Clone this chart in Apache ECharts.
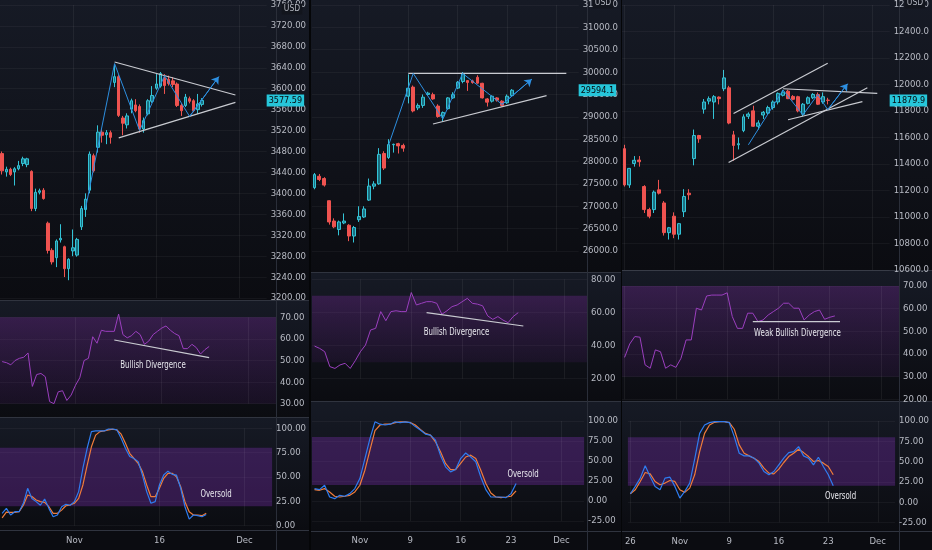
<!DOCTYPE html>
<html><head><meta charset="utf-8">
<script src="https://cdn.jsdelivr.net/npm/echarts/dist/echarts.min.js"></script>
<style>
html,body{margin:0;padding:0;background:#050608;width:932px;height:550px;overflow:hidden;}
.col{position:absolute;top:0;height:550px;overflow:hidden;}
</style></head><body>
<div id="c1" class="col" style="left:0;width:309px"></div>
<div id="c2" class="col" style="left:311px;width:310px"></div>
<div id="c3" class="col" style="left:622px;width:310px"></div>
<script>
// ---------- shared time slots (4h bars, two per trading day) ----------
const tradingDays = ['2020-10-20','2020-10-21','2020-10-22','2020-10-23','2020-10-26','2020-10-27','2020-10-28','2020-10-29','2020-10-30',
 '2020-11-02','2020-11-03','2020-11-04','2020-11-05','2020-11-06','2020-11-09','2020-11-10','2020-11-11','2020-11-12','2020-11-13',
 '2020-11-16','2020-11-17','2020-11-18','2020-11-19','2020-11-20','2020-11-23','2020-11-24','2020-11-25','2020-11-27','2020-11-30',
 '2020-12-01','2020-12-02','2020-12-03','2020-12-04','2020-12-07','2020-12-08','2020-12-09','2020-12-10'];
const sessions = ['09:30','13:30'];

// ---------- column 1 (USD, ~3577) ----------
const spxTicks = [['2020-11-02','Nov'],['2020-11-16','16'],['2020-12-01','Dec']];
// [open, close, low, high]
const spxCandles = [
 [3476,3443,3436,3480],[3441,3446,3432,3451],[3446,3436,3433,3449],[3441,3447,3415,3450],[3447,3453,3444,3462],
 [3457,3466,3452,3470],[3455,3466,3450,3468],[3442,3371,3366,3444],[3371,3402,3366,3409],[3402,3405,3398,3409],
 [3406,3390,3388,3410],[3343,3291,3285,3346],[3291,3269,3264,3295],[3277,3309,3259,3312],[3311,3314,3306,3341],
 [3298,3256,3240,3300],[3256,3274,3234,3276],[3290,3296,3280,3331],[3282,3312,3279,3315],[3336,3371,3330,3376],
 [3369,3389,3355,3400],[3406,3475,3400,3480],[3472,3443,3440,3476],[3488,3517,3478,3530],[3517,3511,3497,3522],
 [3512,3516,3494,3521],[3516,3507,3495,3520],[3612,3623,3603,3645],[3623,3549,3546,3627],[3544,3534,3511,3548],
 [3531,3548,3524,3553],[3561,3577,3553,3581],[3569,3558,3555,3580],[3566,3523,3516,3570],[3523,3539,3516,3545],
 [3552,3577,3549,3580],[3576,3587,3573,3605],[3601,3609,3598,3628],[3605,3629,3602,3632],[3620,3606,3590,3628],
 [3618,3610,3606,3625],[3615,3608,3603,3622],[3609,3568,3565,3612],[3568,3558,3548,3572],[3568,3584,3565,3590],
 [3581,3576,3572,3585],[3577,3558,3555,3580],[3560,3571,3552,3590],[3570,3577.59,3566,3582]];
const spxRsi = [49.5,49,48,50,51,51.5,53.5,38,43.5,44,42.5,31,30,35.5,36,31.5,34,38.5,42,50,51,61,58,64,63.5,63.5,63.5,71.5,62,60.5,
 61.5,63.5,62,57.5,59,62,63.5,65,66,64,62.5,61.5,55.5,55.5,57.5,56,53,55,56.5];
const spxK = [12.7,17.8,11,14.4,14.4,23,38.4,28,24.7,21,27.4,17.8,9.2,11,19.5,22,21,24.7,35,59,79.5,96.6,97.3,97.3,97.3,99.3,99.3,98.3,
 89.7,79.5,71,69,65.8,52,35,23,24.7,41.8,52,56,52.7,52,38.4,19.5,6.8,11,10.3,9.2,11.6];
const spxD = [8,14,13.7,13.7,14.4,21,31.5,30,26.4,24.7,24,19.5,12.7,12.7,16,20.5,21.2,23,28,41.8,62,81,93,96.6,97.3,98.3,99,98.3,
 94,84.6,74.3,69,64,55.5,41.8,29.8,29.8,38.4,48.6,53.8,53.8,50.3,40,24.7,14.4,11,11,10.3,12.7];
const spxWave = [[20,3370],[27,3648],[33,3520],[39,3625],[45,3547],[52,3623]];
const spxTriUpper = [[27,3651],[56,3588]];
const spxTriLower = [[28,3506],[56,3574]];
const spxRsiLine = [[26,59.5],[48,51.3]];

// ---------- column 2 (~29594) ----------
const djiTicks = [['2020-11-02','Nov'],['2020-11-09','9'],['2020-11-16','16'],['2020-11-23','23'],['2020-12-01','Dec']];
const djiCandles = [
 [27416,27708,27380,27744],[27671,27598,27562,27722],[27620,27474,27440,27650],[27124,26649,26590,27130],[26671,26540,26510,26730],
 [26481,26650,26350,26680],[26627,26670,26600,26840],[26576,26335,26220,26600],[26335,26525,26190,26560],[26700,26770,26650,27000],
 [26760,26940,26740,27000],[27138,27452,27120,27620],[27450,27500,27380,27560],[27503,28160,27480,28300],[28180,27854,27810,28230],
 [28090,28380,28060,28500],[28375,28385,28200,28400],[28400,28350,28180,28420],[28360,28300,28220,28400],[29460,29640,29300,29950],
 [29664,29131,29100,29700],[29200,29255,29150,29300],[29255,29438,29200,29500],[29500,29530,29480,29560],[29496,29400,29380,29540],
 [29240,29007,28980,29280],[29020,29095,28900,29120],[29182,29423,29160,29440],[29423,29496,29400,29550],[29642,29774,29620,29800],
 [29790,29970,29750,30000],[29810,29766,29580,29820],[29803,29766,29740,29830],[29883,29752,29740,29930],[29750,29423,29410,29760],
 [29400,29328,29230,29420],[29350,29460,29320,29480],[29423,29372,29340,29440],[29350,29255,29230,29370],[29314,29460,29290,29500],
 [29474,29594.1,29460,29620]];
const djiRsi = [39.7,38.3,36.3,27.3,26.2,28.3,29.3,26.2,30.9,36.3,40.3,49.4,50.4,60.5,55,60.5,61,60.5,60.5,72,64.5,65.5,66.5,66.5,65.5,
 58.9,61,63.5,64.5,66.5,68.5,65.5,65,64,57.9,55.8,57.5,55.4,53.8,57.5,59.9];
const djiK = [15.5,14.2,19.7,5,2.9,7.1,5.9,9.2,15.5,28,53,78,99,96,95,96,99,98,99,98,93,88.7,83.7,82.4,76,57,42.7,36.4,39.3,53,60,55,49,
 30,14.2,5,5,5,4.2,9.2,21.8];
const djiD = [14.2,13.4,15.5,11.3,5.9,5,5.9,7.1,11.3,19.7,38.5,63.6,87.9,95,96,96,98,99,99,98,95,89.5,84.5,82.4,74,61.5,46.9,39.3,39.3,
 46.9,55,57.3,53,38.5,21.8,10,5,4.2,5,5.9,12.6];
const djiWave = [[15,28365],[20,29970],[26,28950],[30,29970],[38,29277],[44,29840]];
const djiResistance = [[19,29970],[51,29970]];
const djiSupport = [[24,28840],[47,29474]];
const djiRsiLine = [[22,59.9],[41,51.8]];

// ---------- column 3 (~11879.9) ----------
const ndxTicks = [['2020-10-26','26'],['2020-11-02','Nov'],['2020-11-09','9'],['2020-11-16','16'],['2020-11-23','23'],['2020-12-01','Dec']];
const ndxCandles = [
 [11516,11242,11230,11545],[11242,11367,11220,11370],[11404,11428,11380,11460],[11430,11417,11380,11460],[11230,11056,11030,11240],
 [11056,11006,10990,11070],[11056,11188,11030,11200],[11205,11180,11170,11280],[11106,10882,10860,11120],[10882,10919,10830,10925],
 [11006,10870,10840,11035],[10870,10950,10830,10955],[11040,11155,11000,11210],[11180,11168,11130,11210],[11441,11615,11390,11660],
 [11615,11590,11560,11620],[11814,11868,11780,11890],[11875,11893,11850,11910],[11868,11908,11740,11920],[11905,11893,11850,11910],
 [11968,12050,11950,12110],[11975,11709,11700,11990],[11620,11540,11425,11650],[11545,11553,11510,11600],[11652,11756,11640,11775],
 [11760,11777,11740,11790],[11801,11685,11680,11840],[11685,11710,11660,11730],[11770,11790,11740,11800],[11784,11826,11770,11840],
 [11826,11868,11810,11880],[11868,11933,11850,11940],[11918,11943,11910,11960],[11950,11893,11890,11960],[11910,11888,11880,11920],
 [11908,11801,11790,11915],[11776,11851,11760,11860],[11858,11900,11850,11910],[11900,11925,11890,11935],[11925,11851,11845,11940],
 [11868,11908,11855,11940],[11882,11879.9,11850,11900]];
const ndxRsi = [38.5,44.4,47.7,47.4,35.2,33.7,41.8,41,33.7,35.2,34.1,38.1,46.2,46.2,60.2,59.4,65.6,66,66,66,67,56.5,51.3,51.3,58,58,
 54.3,55,57.2,58.7,60.2,62.4,62.4,60.2,60.2,55,57.2,58.7,59.4,55.3,56.2,56.8];
const ndxK = [10.2,19.3,29.5,44.7,31.6,19.3,15.2,29.5,30.7,19.3,4.9,13.1,23.4,52.9,84.8,95,98,99.2,99.2,99.2,98,80.7,60.2,57,57,54.1,48,
 37.7,33.6,37.7,45.9,54.1,61,62.3,68.4,57,54.1,45.9,55.3,43.9,33.6,20.1];
const ndxD = [10.2,15.2,25.4,36.5,34.8,25.4,21.3,23.4,26.6,25.4,15.2,11.9,17.2,33.6,62.3,84.8,95,98.4,99.2,99.2,98,89.8,70.5,60.2,57,
 54.1,50,41.8,35.7,34.8,40.6,48.8,56.1,60.2,65.2,61,56.1,50,51.2,48,43.9,33.6];
const ndxChannelUpper = [[22,11781],[41,12161]];
const ndxChannelLower = [[21,11411],[49,11975]];
const ndxWave = [[25,11545],[32,11958],[36,11770],[39,11925],[41,11810],[45,12005]];
const ndxFlatTop = [[32,11968],[51,11933]];
const ndxTriLower = [[33,11734],[48,11871]];
const ndxRsiLine = [[25,54.3],[42,54.3]];

// ---------- styling / layout ----------
const FONT = "'Liberation Sans Narrow','DejaVu Sans Condensed',Roboto,sans-serif";
const TXT = '#b8bbc4';
const UP_FILL = '#1b6f80', UP_LINE = '#33c3d6', DOWN = '#ef5350';
const WAVE = '#2d8fe0', TREND = '#c9cbd1', RSI_C = '#9b3fbf', K_C = '#2f7cf0', D_C = '#f07c3a';
const allSlots = tradingDays.flatMap(d => sessions.map(s => d + ' ' + s));

function grad(stops) {
  return new echarts.graphic.LinearGradient(0, 0, 0, 1, stops.map((c, i) => ({offset: i / (stops.length - 1), color: c})));
}

function buildColumn(id, d, L) {
  const chart = echarts.init(document.getElementById(id), null, {renderer: 'canvas'});
  const cats = allSlots.slice(d.start, d.start + L.n);
  const tickMap = {};
  d.ticks.forEach(([day, lab]) => { tickMap[day + ' 09:30'] = lab; });
  const vlines = Object.keys(tickMap).map(c => ({xAxis: c, lineStyle: {color: 'rgba(255,255,255,0.06)', width: 1, type: 'solid'}, label: {show: false}}));
  const panes = [L.candle, L.rsi, L.stoch];
  const grid = panes.map(p => ({left: L.gl, width: L.gw, top: p.top, height: p.h}));
  const xAxis = panes.map((p, i) => ({
    type: 'category', gridIndex: i, data: cats, boundaryGap: true,
    axisLine: {show: false}, axisTick: {show: false}, splitLine: {show: false},
    axisLabel: i === 2 ? {
      show: true, color: TXT, fontSize: 9.5, fontFamily: FONT, margin: L.xMargin,
      alignMinLabel: 'center', alignMaxLabel: 'center', hideOverlap: false,
      interval: (idx, v) => tickMap[v] !== undefined,
      formatter: v => tickMap[v] || ''
    } : {show: false}
  }));
  const yAxis = panes.map((p, i) => ({
    type: 'value', gridIndex: i, position: 'right', min: p.min, max: p.max, interval: p.int,
    axisLine: {show: false}, axisTick: {show: false},
    splitLine: {show: true, lineStyle: {color: 'rgba(255,255,255,0.045)', width: 1}},
    axisLabel: {show: true, color: TXT, fontSize: 9.5, fontFamily: FONT, margin: 4,
      formatter: v => v.toFixed(p.dec === undefined ? 2 : p.dec)}
  }));
  const last = d.candles[d.candles.length - 1][1];
  const series = [];
  series.push({
    type: 'candlestick', xAxisIndex: 0, yAxisIndex: 0, data: d.candles, barWidth: '68%', silent: true, clip: false,
    itemStyle: {color: UP_FILL, color0: DOWN, borderColor: UP_LINE, borderColor0: DOWN, borderWidth: 1},
    markLine: {silent: true, symbol: 'none', animation: false, data: vlines}
  });
  // last price tag
  series.push({
    type: 'line', xAxisIndex: 0, yAxisIndex: 0, data: [], symbol: 'none', silent: true, clip: false, z: 20,
    markLine: {silent: true, symbol: 'none', animation: false, data: [{
      yAxis: last, lineStyle: {color: 'rgba(0,0,0,0)', width: 0},
      label: {show: true, position: 'end', distance: 0, formatter: () => last.toFixed(L.candle.dec),
        backgroundColor: '#26c6da', color: '#07090d', fontSize: 9, fontFamily: FONT, padding: [2, 2, 1, 2]}
    }]}
  });
  const lineSeries = (data, color, width, gi, arrow) => {
    const s = {type: 'line', xAxisIndex: gi, yAxisIndex: gi, data: data, symbol: 'none', silent: true, clip: false,
      lineStyle: {color: color, width: width}, z: 5, animation: false};
    if (arrow) {
      const n = data.length;
      s.markLine = {silent: true, symbol: ['none', 'arrow'], symbolSize: 7, animation: false,
        lineStyle: {color: color, width: width, type: 'solid'}, label: {show: false},
        data: [[{coord: data[n - 2]}, {coord: data[n - 1]}]]};
    }
    return s;
  };
  d.trend.forEach(t => series.push(lineSeries(t, TREND, 1.2, 0, false)));
  series.push(lineSeries(d.wave, WAVE, 1, 0, true));
  // RSI
  series.push({
    type: 'line', xAxisIndex: 1, yAxisIndex: 1, data: d.rsi, symbol: 'none', silent: true, clip: false,
    lineStyle: {color: RSI_C, width: 1}, z: 4,
    markArea: {silent: true, itemStyle: {color: grad(['rgba(150,45,190,0.26)', 'rgba(110,35,150,0.12)'])},
      data: [[{yAxis: 70}, {yAxis: 30}]]},
    markLine: {silent: true, symbol: 'none', data: vlines}
  });
  series.push(lineSeries(d.rsiLine, TREND, 1.2, 1, false));
  // Stochastic
  series.push({
    type: 'line', xAxisIndex: 2, yAxisIndex: 2, data: d.k, symbol: 'none', silent: true, clip: false,
    lineStyle: {color: K_C, width: 1.2}, z: 4,
    markArea: {silent: true, itemStyle: {color: 'rgba(140,50,200,0.30)'}, data: [[{yAxis: 80}, {yAxis: 20}]]},
    markLine: {silent: true, symbol: 'none', data: vlines}
  });
  series.push({type: 'line', xAxisIndex: 2, yAxisIndex: 2, data: d.d, symbol: 'none', silent: true, clip: false,
    lineStyle: {color: D_C, width: 1.2}, z: 3});

  const W = L.divW;
  const graphic = [];
  L.panels.forEach(([y0, y1]) => {
    graphic.push({type: 'rect', z: -20, silent: true, shape: {x: 0, y: y0, width: W, height: y1 - y0},
      style: {fill: grad(['#161a25', '#0b0c11'])}});
    graphic.push({type: 'rect', z: -5, silent: true, shape: {x: 0, y: y1, width: W, height: 1}, style: {fill: '#30343f'}});
  });
  graphic.push({type: 'rect', z: -5, silent: true, shape: {x: L.gl + L.gw, y: 0, width: 1, height: 550}, style: {fill: '#2a2e39'}});
  graphic.push({type: 'text', z: 50, x: L.gl + L.gw + 16, y: L.usdY, silent: true,
    style: {text: 'USD', fill: '#b4b7c0', font: '8.5px ' + FONT, align: 'center', verticalAlign: 'middle',
      backgroundColor: '#12151d', padding: [1, 2]}});
  d.notes.forEach(n => graphic.push({type: 'text', z: 50, x: n.x, y: n.y, scaleX: 0.78, silent: true,
    style: {text: n.text, fill: '#e6e6ec', font: '10px ' + FONT, align: 'center', verticalAlign: 'middle'}}));

  chart.setOption({animation: false, backgroundColor: '#0b0c11', grid, xAxis, yAxis, series, graphic});
}

buildColumn('c1', {
  start: 1, ticks: spxTicks, candles: spxCandles, rsi: spxRsi, k: spxK, d: spxD,
  wave: spxWave, trend: [spxTriUpper, spxTriLower], rsiLine: spxRsiLine,
  notes: [{text: 'Bullish Divergence', x: 153, y: 365}, {text: 'Oversold', x: 216, y: 494}]
}, {
  n: 64, gl: 0, gw: 276, divW: 309, usdY: 9,
  candle: {top: 4, h: 294, min: 3200, max: 3760, int: 40, dec: 2},
  rsi: {top: 317.3, h: 86.4, min: 30, max: 70, int: 10, dec: 2},
  stoch: {top: 428.3, h: 97.4, min: 0, max: 100, int: 25, dec: 2},
  panels: [[0, 300], [301, 417], [418, 530]], xMargin: 10
});

buildColumn('c2', {
  start: 9, ticks: djiTicks, candles: djiCandles, rsi: djiRsi, k: djiK, d: djiD,
  wave: djiWave, trend: [djiResistance, djiSupport], rsiLine: djiRsiLine,
  notes: [{text: 'Bullish Divergence', x: 145.5, y: 332}, {text: 'Oversold', x: 212, y: 474}]
}, {
  n: 54, gl: 1, gw: 275, divW: 310, usdY: 3,
  candle: {top: 0, h: 251, min: 26000, max: 31500, int: 500, dec: 1},
  rsi: {top: 279.3, h: 99.4, min: 20, max: 80, int: 20, dec: 2},
  stoch: {top: 421, h: 100, min: -25, max: 100, int: 25, dec: 2},
  panels: [[0, 272], [273, 401], [402, 531]], xMargin: 15
});

buildColumn('c3', {
  start: 8, ticks: ndxTicks, candles: ndxCandles, rsi: ndxRsi, k: ndxK, d: ndxD,
  wave: ndxWave, trend: [ndxChannelUpper, ndxChannelLower, ndxFlatTop, ndxTriLower], rsiLine: ndxRsiLine,
  notes: [{text: 'Weak Bullish Divergence', x: 175.5, y: 333}, {text: 'Oversold', x: 218.5, y: 496}]
}, {
  n: 54, gl: 0, gw: 277, divW: 310, usdY: 3,
  candle: {top: 2, h: 268, min: 10600, max: 12600, int: 200, dec: 1},
  rsi: {top: 286, h: 113.3, min: 20, max: 70, int: 10, dec: 2},
  stoch: {top: 421, h: 101.3, min: -25, max: 100, int: 25, dec: 2},
  panels: [[0, 270], [271, 401], [402, 531]], xMargin: 14
});
</script></body></html>
